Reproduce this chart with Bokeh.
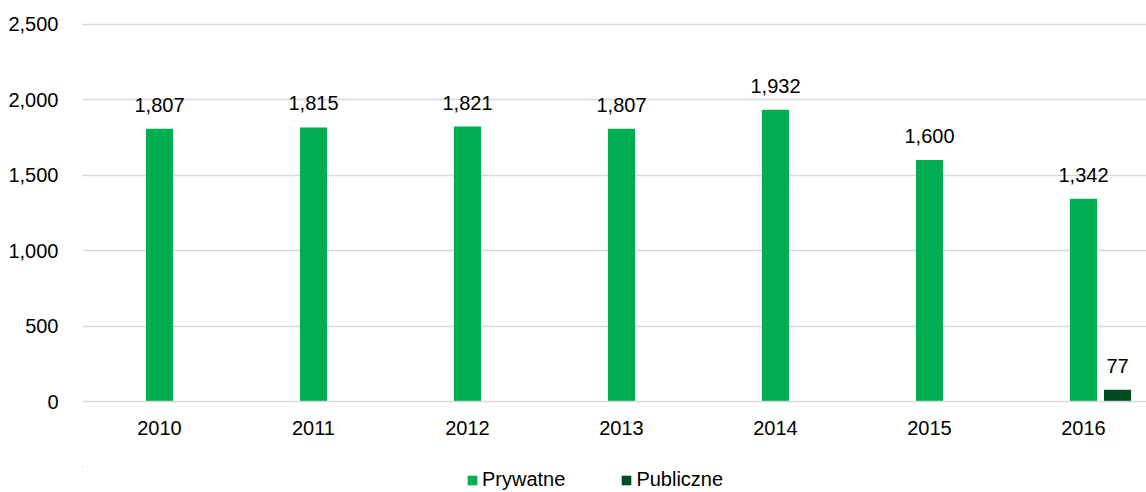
from bokeh.plotting import figure
from bokeh.layouts import column
from bokeh.models import ColumnDataSource, Range1d, FixedTicker, NumeralTickFormatter, Legend, LegendItem
from bokeh.embed import file_html
from bokeh.resources import INLINE
from bokeh.core.properties import value

years = ["2010", "2011", "2012", "2013", "2014", "2015", "2016"]
prywatne = [1807, 1815, 1821, 1807, 1932, 1600, 1342]
publiczne = [None, None, None, None, None, None, 77]
y_ticks = [0, 500, 1000, 1500, 2000, 2500]
series_names = ["Prywatne", "Publiczne"]

GREEN = "#00ad50"
DARK = "#004a1f"
FONT = "Liberation Sans"
FS = "20px"

xs = list(range(len(years)))
pub_idx = [i for i, v in enumerate(publiczne) if v is not None]

src_pr = ColumnDataSource(dict(x=xs, y=prywatne, lab=[f"{v:,}" for v in prywatne]))
src_pu = ColumnDataSource(dict(x=[xs[i] + 0.221 for i in pub_idx],
                               y=[publiczne[i] for i in pub_idx],
                               lab=[f"{publiczne[i]:,}" for i in pub_idx]))

p = figure(width=1146, height=466, output_backend="svg", toolbar_location=None,
           x_range=Range1d(-0.5, -0.5 + 1064 / 154), y_range=Range1d(0, 2510),
           min_border_left=82, min_border_right=0, min_border_top=22, min_border_bottom=65)
p.outline_line_color = None
p.background_fill_color = "white"
p.border_fill_color = "white"

p.vbar(x="x", top="y", width=0.176, source=src_pr, fill_color=GREEN, line_color=None)
p.vbar(x="x", top="y", width=0.176, source=src_pu, fill_color=DARK, line_color=None)

p.text(x="x", y="y", text="lab", source=src_pr, text_align="center", text_baseline="bottom",
       y_offset=-17, text_font=value(FONT), text_font_size=FS, text_color="#000000")
p.text(x="x", y="y", text="lab", source=src_pu, text_align="center", text_baseline="bottom",
       y_offset=-17, text_font=value(FONT), text_font_size=FS, text_color="#000000")

p.xgrid.grid_line_color = None
p.ygrid.grid_line_color = "#d9d9d9"
p.ygrid.grid_line_width = 1.5
p.ygrid.ticker = FixedTicker(ticks=y_ticks)

p.yaxis.ticker = FixedTicker(ticks=y_ticks)
p.yaxis.formatter = NumeralTickFormatter(format="0,0")
p.yaxis.axis_line_color = None
p.yaxis.major_tick_line_color = None
p.yaxis.minor_tick_line_color = None
p.yaxis.major_label_standoff = 18
p.yaxis.major_label_text_font = FONT
p.yaxis.major_label_text_font_size = FS
p.yaxis.major_label_text_color = "#000000"

p.xaxis.ticker = FixedTicker(ticks=xs)
p.xaxis.major_label_overrides = {i: y for i, y in enumerate(years)}
p.xaxis.axis_line_color = "#d9d9d9"
p.xaxis.axis_line_width = 1.5
p.xaxis.major_tick_line_color = None
p.xaxis.minor_tick_line_color = None
p.xaxis.major_label_standoff = 13
p.xaxis.major_label_text_font = FONT
p.xaxis.major_label_text_font_size = FS
p.xaxis.major_label_text_color = "#000000"

# legend strip (the series renderers live outside this strip's visible range; only the legend shows)
pl = figure(width=1146, height=26, output_backend="svg", toolbar_location=None,
            x_range=Range1d(100, 101), y_range=Range1d(-2, -1),
            x_axis_type=None, y_axis_type=None,
            min_border=0, min_border_left=0, min_border_right=0, min_border_top=0, min_border_bottom=0)
pl.outline_line_color = None
pl.background_fill_alpha = 0
pl.border_fill_alpha = 0
pl.xgrid.visible = False
pl.ygrid.visible = False
l1 = pl.vbar(x="x", top="y", width=0.176, source=src_pr, fill_color=GREEN, line_color=None)
l2 = pl.vbar(x="x", top="y", width=0.176, source=src_pu, fill_color=DARK, line_color=None)
legend = Legend(items=[LegendItem(label=series_names[0], renderers=[l1]),
                       LegendItem(label=series_names[1], renderers=[l2])],
                orientation="horizontal", location=(384, 1),
                padding=0, margin=0, spacing=55, label_standoff=4,
                glyph_width=12, glyph_height=12, label_height=20,
                label_text_font=FONT, label_text_font_size=FS, label_text_color="#000000",
                border_line_color=None, background_fill_alpha=0)
pl.add_layout(legend, "center")

layout = column(p, pl, spacing=0)
open("out.html", "w").write(file_html(layout, INLINE))
